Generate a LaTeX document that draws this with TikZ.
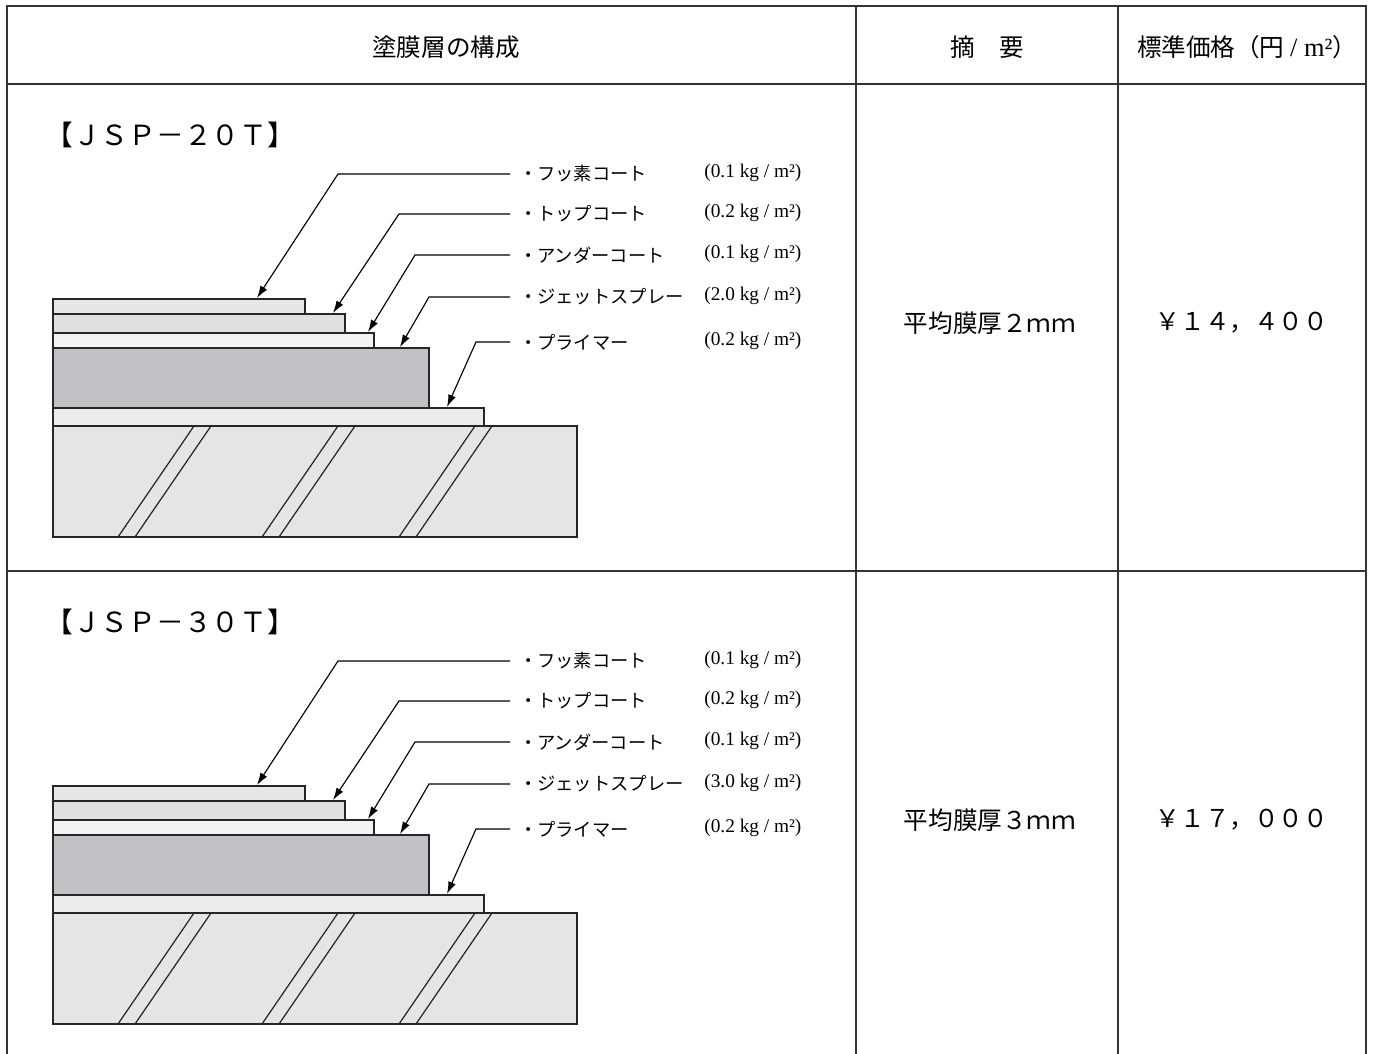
\documentclass[tikz,border=0pt]{standalone}
\usepackage{fontspec}
\setmainfont{Liberation Serif}
\newfontfamily\jp{Noto Sans CJK JP}
\usetikzlibrary{arrows.meta}

\definecolor{fluoro}{HTML}{E6E7E8}
\definecolor{topcoat}{HTML}{DFE0E1}
\definecolor{undercoat}{HTML}{F3F3F3}
\definecolor{jetspray}{HTML}{C1C2C5}
\definecolor{primer}{HTML}{ECECEC}
\definecolor{substrate}{HTML}{E4E5E6}

\begin{document}
\begin{tikzpicture}[x=0.02cm, y=-0.02cm,
  rule/.style={draw=black!80, line width=1.1pt},
  coat/.style={draw=black!85, line width=0.7pt},
  leader/.style={draw=black, line width=0.65pt, -{Latex[length=7pt,width=4.5pt]}},
  head/.style={font=\jp\fontsize{14}{16}\selectfont},
  code/.style={font=\jp\fontsize{15.8}{18}\selectfont, anchor=west, inner sep=0pt},
  layername/.style={font=\jp\fontsize{10.4}{12}\selectfont, anchor=west, inner xsep=5pt, inner ysep=0pt},
  rate/.style={font=\fontsize{11}{13}\selectfont, anchor=west, inner sep=0pt},
  cell/.style={font=\jp\fontsize{14}{16}\selectfont}]

\useasboundingbox (0,0) rectangle (1374,1054);

\draw[rule] (7,1054) -- (7,6) -- (1366,6) -- (1366,1054);
\draw[rule] (7,84) -- (1366,84);
\draw[rule] (7,571) -- (1366,571);
\draw[rule] (856,6) -- (856,1054);
\draw[rule] (1118,6) -- (1118,1054);

\node[head] (hlayers) at (446,47) {塗膜層の構成};
\node[head] (hnote) at (987,47) {摘　要};
\node[head] (hprice) at (1247,47) {標準価格（円 {\rmfamily\fontsize{15}{16}\selectfont / m²}）};

\foreach \p/\dy/\num/\jet/\thick/\price/\ty in
  {a/0/２０/2.0/２/￥１４，４００/323, b/487/３０/3.0/３/￥１７，０００/820} {
\begin{scope}[shift={(0,\dy)}]
\node[code] (code\p) at (45,135) {【ＪＳＰ－\num Ｔ】};

\draw[coat, fill=substrate] (53,426) rectangle (577,537);
\foreach \bx in {118,135,262,279,399,416}
  \draw[coat] (\bx,537) -- ++(76,-111);
\draw[coat, fill=primer] (53,408) rectangle (484,426);
\draw[coat, fill=jetspray] (53,348) rectangle (429,408);
\draw[coat, fill=undercoat] (53,333) rectangle (374,348);
\draw[coat, fill=topcoat] (53,314) rectangle (345,333);
\draw[coat, fill=fluoro] (53,299) rectangle (305,314);

\node[layername] (fluoro\p) at (510,174) {・フッ素コート};
\node[layername] (topcoat\p) at (510,214) {・トップコート};
\node[layername] (undercoat\p) at (510,255) {・アンダーコート};
\node[layername] (jetspray\p) at (510,297) {・ジェットスプレー};
\node[layername] (primer\p) at (510,342) {・プライマー};

\node[rate] (fluororate\p) at (704,173) {(0.1 kg / m²)};
\node[rate] (topcoatrate\p) at (704,213) {(0.2 kg / m²)};
\node[rate] (undercoatrate\p) at (704,254) {(0.1 kg / m²)};
\node[rate] (jetsprayrate\p) at (704,296) {(\jet\ kg / m²)};
\node[rate] (primerrate\p) at (704,341) {(0.2 kg / m²)};

\coordinate (fluorobend\p) at (338,174);
\coordinate (topcoatbend\p) at (399,214);
\coordinate (undercoatbend\p) at (415,255);
\coordinate (jetspraybend\p) at (429,297);
\coordinate (primerbend\p) at (476,342);
\coordinate (fluorotip\p) at (257,298);
\coordinate (topcoattip\p) at (333,313);
\coordinate (undercoattip\p) at (368,332);
\coordinate (jetspraytip\p) at (400,347);
\coordinate (primertip\p) at (447,407);

\draw[leader] (fluoro\p.west) -- (fluorobend\p) -- (fluorotip\p);
\draw[leader] (topcoat\p.west) -- (topcoatbend\p) -- (topcoattip\p);
\draw[leader] (undercoat\p.west) -- (undercoatbend\p) -- (undercoattip\p);
\draw[leader] (jetspray\p.west) -- (jetspraybend\p) -- (jetspraytip\p);
\draw[leader] (primer\p.west) -- (primerbend\p) -- (primertip\p);
\end{scope}

\node[cell] (thick\p) at (990,\ty) {平均膜厚\thick ｍｍ};
\node[cell] (price\p) at (1242,\ty) {\price};
}
\end{tikzpicture}
\end{document}
